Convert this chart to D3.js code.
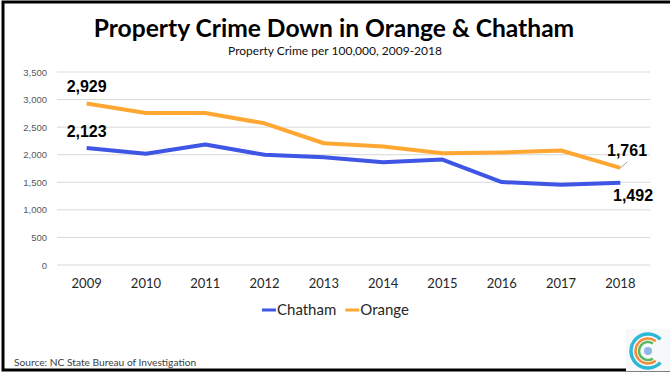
<!DOCTYPE html>
<html>
<head>
<meta charset="utf-8">
<script src="https://cdn.jsdelivr.net/npm/d3@7"></script>
<style>
  html, body { margin: 0; padding: 0; background: #fff; }
  svg { display: block; }
</style>
</head>
<body>
<svg id="chart" width="670" height="378"></svg>
<script>
// Property crime rates per 100,000 residents
const years = ["2009", "2010", "2011", "2012", "2013", "2014", "2015", "2016", "2017", "2018"];
const chatham = [2123, 2016, 2184, 1998, 1955, 1865, 1913, 1504, 1457, 1492];
const orange = [2929, 2756, 2756, 2569, 2208, 2148, 2027, 2040, 2076, 1761];
const yTicks = [0, 500, 1000, 1500, 2000, 2500, 3000, 3500];
const seriesNames = ["Chatham", "Orange"];
const seriesColors = ["#3F55E6", "#FFA733"];

const svg = d3.select("#chart");
const bodyFont = "Lato, 'Open Sans', sans-serif";
const labelFont = "'Liberation Sans', Arial, sans-serif";

// Frame
svg.append("rect").attr("x", 3).attr("y", 2).attr("width", 720).attr("height", 368)
  .attr("fill", "#fff").attr("stroke", "#000").attr("stroke-width", 3);

// Titles
svg.append("text").attr("x", 334).attr("y", 37).attr("text-anchor", "middle")
  .attr("font-family", bodyFont).attr("font-weight", 700).attr("font-size", 24.6)
  .attr("fill", "#000").text("Property Crime Down in Orange & Chatham");
svg.append("text").attr("x", 335).attr("y", 55).attr("text-anchor", "middle")
  .attr("font-family", bodyFont).attr("font-size", 12)
  .attr("fill", "#111").text("Property Crime per 100,000, 2009-2018");

// Scales
const x = d3.scaleBand().domain(years).range([57, 650]);
const y = d3.scaleLinear().domain([0, 3500]).range([265, 72]);
const cx = d => x(d) + x.bandwidth() / 2;

// Gridlines
svg.append("g").selectAll("line").data(yTicks).join("line")
  .attr("x1", 57).attr("x2", 650)
  .attr("y1", d => y(d)).attr("y2", d => y(d))
  .attr("stroke", "#D9D9D9").attr("stroke-width", 1);

// Y axis
const yAxis = svg.append("g").attr("transform", "translate(57,0)")
  .call(d3.axisLeft(y).tickValues(yTicks).tickFormat(d3.format(",")).tickSize(0).tickPadding(10));
yAxis.select(".domain").remove();
yAxis.selectAll("text").attr("font-family", labelFont).attr("font-size", 9.5).attr("fill", "#595959");

// X axis
const xAxis = svg.append("g").attr("transform", "translate(0,265)")
  .call(d3.axisBottom(x).tickSize(0).tickPadding(14));
xAxis.select(".domain").remove();
xAxis.selectAll("text").attr("font-family", bodyFont).attr("font-size", 13).attr("fill", "#262626");

// Lines
const line = d3.line().x((d, i) => cx(years[i])).y(d => y(d));
[chatham, orange].forEach((vals, k) => {
  svg.append("path").datum(vals).attr("d", line)
    .attr("fill", "none").attr("stroke", seriesColors[k]).attr("stroke-width", 4)
    .attr("stroke-linejoin", "round");
});

// Data labels at the ends of each series
const lbl = (txt, lx, ly, anchor) => svg.append("text").attr("x", lx).attr("y", ly)
  .attr("text-anchor", anchor || "middle").attr("font-family", labelFont)
  .attr("font-weight", 700).attr("font-size", 16).attr("fill", "#000").text(txt);
const fmt = d3.format(",");
lbl(fmt(orange[0]), cx(years[0]), y(orange[0]) - 11);
lbl(fmt(chatham[0]), cx(years[0]), y(chatham[0]) - 11);
const last = years.length - 1;
// leader line for the Orange end label
svg.append("line").attr("x1", cx(years[last])).attr("y1", y(orange[last]))
  .attr("x2", cx(years[last]) + 7).attr("y2", y(orange[last]) - 6)
  .attr("stroke", "#A6A6A6").attr("stroke-width", 1);
lbl(fmt(orange[last]), 607, y(orange[last]) - 12, "start");
lbl(fmt(chatham[last]), 613, y(chatham[last]) + 18, "start");

// Legend
const legend = svg.append("g").attr("transform", "translate(262,310)");
let lx = 0;
seriesNames.forEach((name, i) => {
  const g = legend.append("g").attr("transform", `translate(${lx},0)`);
  g.append("line").attr("x1", 0).attr("x2", 14).attr("y1", 0).attr("y2", 0)
    .attr("stroke", seriesColors[i]).attr("stroke-width", 3);
  const t = g.append("text").attr("x", 15).attr("y", 5).attr("font-family", bodyFont)
    .attr("font-size", 15).attr("fill", "#262626").text(name);
  lx += 15 + t.node().getComputedTextLength() + 9;
});

// Source note
svg.append("text").attr("x", 14).attr("y", 366).attr("font-family", bodyFont)
  .attr("font-size", 10.2).attr("fill", "#404040").text("Source: NC State Bureau of Investigation");

// Logo mark: concentric open rings
const logo = svg.append("g").attr("transform", "translate(648,351)");
logo.append("rect").attr("x", -22).attr("y", -22).attr("width", 44).attr("height", 42).attr("fill", "#F6F8FA");
const rings = [
  { r: 17, w: 3.5, c: "#2DB8D8", gap: 0.75 },
  { r: 12.5, w: 2.5, c: "#F28C3B", gap: 0.9 },
  { r: 9, w: 2.5, c: "#5CB85C", gap: 1.0 }
];
rings.forEach(rg => {
  logo.append("path").attr("d", d3.arc()({
    innerRadius: rg.r - rg.w / 2, outerRadius: rg.r + rg.w / 2,
    startAngle: Math.PI / 2 + rg.gap, endAngle: Math.PI / 2 + 2 * Math.PI - rg.gap
  })).attr("fill", rg.c);
});
logo.append("circle").attr("r", 4).attr("fill", "#8FB8E8");
</script>
</body>
</html>
